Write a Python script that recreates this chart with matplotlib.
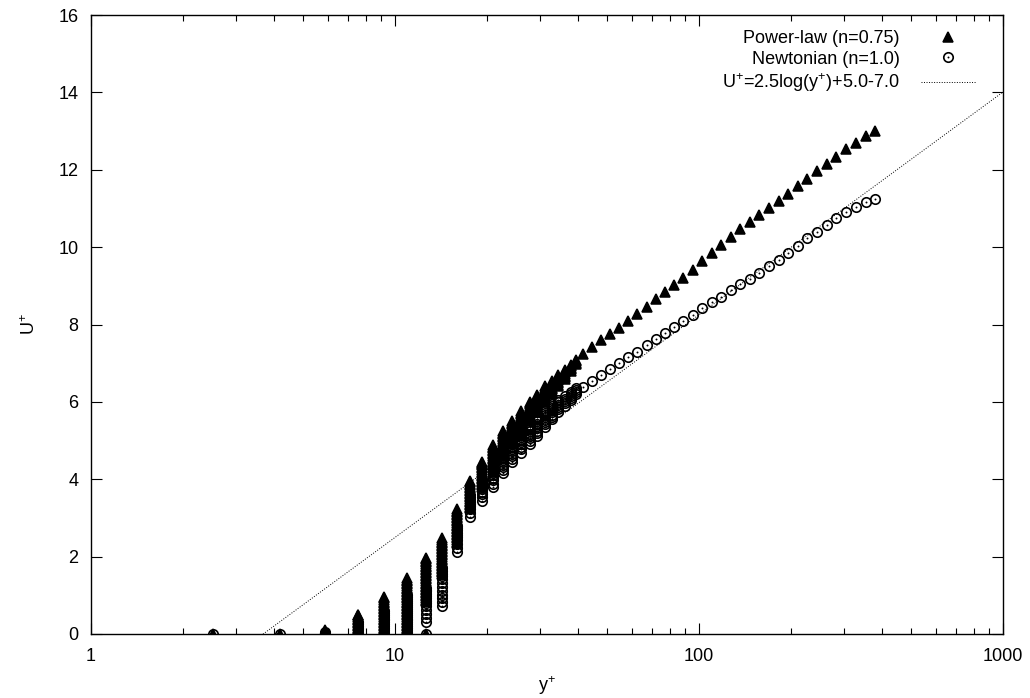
import matplotlib
matplotlib.use("Agg")
import matplotlib.pyplot as plt
import numpy as np
from matplotlib.legend_handler import HandlerTuple
from matplotlib.ticker import FixedLocator, NullFormatter, FixedFormatter

plt.rcParams['font.family'] = ['Liberation Sans', 'DejaVu Sans']
plt.rcParams['mathtext.fontset'] = 'custom'
plt.rcParams['mathtext.rm'] = 'Liberation Sans'
plt.rcParams['mathtext.it'] = 'Liberation Sans'
plt.rcParams['mathtext.bf'] = 'Liberation Sans'

# ---------------- data ----------------
# near-wall grid columns (y+) where many stations overlap
col_yplus = [2.51, 4.18, 5.88, 7.54, 9.22, 10.93, 12.60, 14.27, 15.95, 17.63,
             19.31, 20.99, 22.67, 24.35, 26.03, 27.71, 29.39, 31.07, 32.75,
             34.43, 36.11, 37.79, 39.47]

# Power-law (n=0.75): U+ values seen in each column
pl_col_u = [
    [0.0],
    [0.0],
    [0.00, 0.04, 0.08, 0.11],
    [0.00, 0.04, 0.08, 0.12, 0.16, 0.20, 0.24, 0.28, 0.32, 0.36, 0.40, 0.44,
     0.48, 0.50],
    [0.00, 0.04, 0.08, 0.12, 0.16, 0.20, 0.24, 0.28, 0.32, 0.36, 0.40, 0.44,
     0.48, 0.52, 0.56, 0.60, 0.64, 0.68, 0.72, 0.76, 0.80, 0.84, 0.88, 0.92,
     0.95],
    [0.00, 0.04, 0.08, 0.12, 0.16, 0.20, 0.24, 0.28, 0.32, 0.36, 0.40, 0.44,
     0.48, 0.52, 0.56, 0.60, 0.64, 0.68, 0.72, 0.76, 0.80, 0.84, 0.88, 0.92,
     0.96, 1.00, 1.04, 1.08, 1.12, 1.16, 1.20, 1.24, 1.28, 1.32, 1.36, 1.40,
     1.45],
    [0.00, 0.85, 0.89, 0.93, 0.97, 1.01, 1.05, 1.09, 1.13, 1.17, 1.21, 1.25,
     1.29, 1.33, 1.37, 1.41, 1.45, 1.49, 1.53, 1.57, 1.61, 1.65, 1.69, 1.73,
     1.77, 1.81, 1.85, 1.89, 1.93, 1.97],
    [1.55, 1.59, 1.63, 1.67, 1.71, 1.75, 1.79, 1.83, 1.87, 1.91, 1.95, 1.99,
     2.03, 2.07, 2.11, 2.15, 2.19, 2.23, 2.27, 2.31, 2.35, 2.39, 2.43, 2.48],
    [2.35, 2.39, 2.43, 2.47, 2.51, 2.55, 2.59, 2.63, 2.67, 2.71, 2.75, 2.79,
     2.83, 2.87, 2.91, 2.95, 2.99, 3.03, 3.07, 3.11, 3.15, 3.19, 3.22],
    [3.25, 3.29, 3.33, 3.37, 3.41, 3.45, 3.49, 3.53, 3.57, 3.61, 3.65, 3.69,
     3.73, 3.77, 3.81, 3.85, 3.89, 3.92, 3.95],
    [3.80, 3.84, 3.88, 3.92, 3.96, 4.00, 4.04, 4.08, 4.12, 4.16, 4.20, 4.24,
     4.28, 4.32, 4.36, 4.40, 4.43, 4.45],
    [4.20, 4.24, 4.28, 4.32, 4.36, 4.40, 4.44, 4.48, 4.52, 4.56, 4.60, 4.64,
     4.68, 4.72, 4.76, 4.80, 4.84, 4.88],
    [4.60, 4.64, 4.68, 4.72, 4.76, 4.80, 4.84, 4.88, 4.92, 4.96, 5.00, 5.04,
     5.08, 5.12, 5.16, 5.20, 5.24],
    [4.90, 4.94, 4.98, 5.02, 5.06, 5.10, 5.14, 5.18, 5.22, 5.26, 5.30, 5.34,
     5.38, 5.42, 5.46, 5.50],
    [5.20, 5.24, 5.28, 5.32, 5.36, 5.40, 5.44, 5.48, 5.52, 5.56, 5.60, 5.64,
     5.68, 5.72, 5.77],
    [5.50, 5.54, 5.58, 5.62, 5.66, 5.70, 5.74, 5.78, 5.82, 5.86, 5.90, 5.94,
     5.97, 6.00],
    [5.75, 5.79, 5.83, 5.87, 5.91, 5.95, 5.99, 6.03, 6.07, 6.11, 6.15, 6.18],
    [6.00, 6.04, 6.08, 6.12, 6.16, 6.20, 6.24, 6.28, 6.32, 6.36, 6.40],
    [6.20, 6.24, 6.28, 6.32, 6.36, 6.40, 6.44, 6.48, 6.53],
    [6.40, 6.44, 6.48, 6.52, 6.56, 6.60, 6.65, 6.70],
    [6.60, 6.64, 6.68, 6.72, 6.76, 6.80, 6.83],
    [6.80, 6.84, 6.88, 6.92, 6.96],
    [6.97, 7.01, 7.05, 7.09],
]

# Newtonian (n=1.0): U+ values seen in each column
nw_col_u = [
    [0.0],
    [0.0],
    [0.00, 0.05],
    [0.00, 0.05, 0.10, 0.15, 0.20, 0.25, 0.30],
    [0.00, 0.05, 0.10, 0.15, 0.20, 0.25, 0.30, 0.35, 0.40, 0.45, 0.50, 0.55,
     0.60],
    [0.00, 0.05, 0.10, 0.15, 0.20, 0.25, 0.30, 0.35, 0.40, 0.45, 0.50, 0.55,
     0.60, 0.65, 0.70, 0.75, 0.80, 0.85, 0.90, 0.95, 1.00],
    [0.00, 0.32, 0.42, 0.52, 0.62, 0.72, 0.80, 0.86, 0.92, 0.98, 1.04, 1.10,
     1.15, 1.20],
    [0.72, 0.82, 0.92, 1.02, 1.12, 1.22, 1.32, 1.42, 1.50, 1.56, 1.62, 1.70],
    [2.13, 2.23, 2.33, 2.42, 2.50, 2.56, 2.62, 2.68, 2.74, 2.80],
    [3.03, 3.13, 3.22, 3.30, 3.36, 3.42, 3.48, 3.54, 3.60],
    [3.45, 3.54, 3.62, 3.68, 3.74, 3.80, 3.86, 3.92, 4.00],
    [3.80, 3.89, 3.97, 4.04, 4.10, 4.16, 4.22, 4.28, 4.34, 4.40],
    [4.15, 4.24, 4.32, 4.38, 4.44, 4.50, 4.56, 4.62, 4.70],
    [4.44, 4.53, 4.60, 4.66, 4.72, 4.78, 4.84, 4.90, 4.95, 5.00],
    [4.69, 4.77, 4.84, 4.90, 4.96, 5.02, 5.08, 5.14, 5.20],
    [4.92, 5.00, 5.06, 5.12, 5.18, 5.24, 5.30, 5.35, 5.40],
    [5.13, 5.20, 5.26, 5.32, 5.38, 5.44, 5.50, 5.55, 5.60],
    [5.35, 5.42, 5.48, 5.54, 5.60, 5.66, 5.72, 5.76, 5.80],
    [5.55, 5.61, 5.67, 5.73, 5.79, 5.85, 5.90, 5.95],
    [5.75, 5.81, 5.87, 5.93, 5.99, 6.05],
    [5.90, 5.96, 6.02, 6.08, 6.15],
    [6.05, 6.10, 6.15, 6.20, 6.25],
    [6.20, 6.25, 6.30, 6.35],
]

# outer region: one point per y+
outer_yplus = [41.6, 44.6, 47.7, 50.9, 54.7, 58.6, 62.7, 67.3, 72.2, 77.3,
               82.8, 88.8, 95.4, 102.5, 110.2, 118.3, 127.2, 136.8, 147.2,
               157.9, 169.9, 182.9, 196.7, 211.4, 227.1, 244.4, 263.1, 283.1,
               304.5, 328.5, 353.5, 379.3]
pl_outer_u = [7.24, 7.41, 7.59, 7.75, 7.91, 8.08, 8.27, 8.46, 8.65, 8.83,
              9.02, 9.21, 9.42, 9.63, 9.84, 10.05, 10.26, 10.46, 10.65, 10.84,
              11.02, 11.20, 11.38, 11.57, 11.77, 11.96, 12.15, 12.34, 12.53,
              12.70, 12.86, 13.00]
nw_outer_u = [6.39, 6.55, 6.69, 6.84, 7.00, 7.15, 7.30, 7.47, 7.62, 7.79,
              7.94, 8.10, 8.24, 8.42, 8.58, 8.72, 8.89, 9.04, 9.17, 9.34,
              9.51, 9.67, 9.86, 10.04, 10.23, 10.40, 10.57, 10.74, 10.91,
              11.04, 11.17, 11.24]

# log-law reference line (as drawn): U+ = a*ln(y+) + b
law_a = 2.5
law_b = -3.26
law_yplus_range = [3.68, 1000.0]

x_ticks = [1, 10, 100, 1000]
x_ticklabels = ['1', '10', '100', '1000']
y_ticks = [0, 2, 4, 6, 8, 10, 12, 14, 16]

# ---------------- assemble ----------------
def flatten(cols, outer_x, outer_u):
    xs, us = [], []
    for y, u in zip(col_yplus, cols):
        xs += [y] * len(u)
        us += list(u)
    return np.array(xs + list(outer_x)), np.array(us + list(outer_u))

pl_x, pl_u = flatten(pl_col_u, outer_yplus, pl_outer_u)
nw_x, nw_u = flatten(nw_col_u, outer_yplus, nw_outer_u)

law_x = np.logspace(np.log10(law_yplus_range[0]), np.log10(law_yplus_range[1]), 400)
law_u = law_a * np.log(law_x) + law_b

# ---------------- figure ----------------
FS = 13
fig = plt.figure(figsize=(10.30, 6.98), dpi=100)
ax = fig.add_axes([91/1030, 64/698, 912/1030, 619/698])

tri, = ax.plot(pl_x, pl_u, linestyle='none', marker='^', ms=6.9, mfc='black',
               mec='black', mew=1.1, zorder=2)
circ, = ax.plot(nw_x, nw_u, linestyle='none', marker='o', ms=6.8, mfc='none',
                mec='black', mew=1.2, zorder=3)
dot, = ax.plot(nw_x, nw_u, linestyle='none', marker='o', ms=1.4, mfc='black',
               mec='black', mew=0, zorder=3)
line, = ax.plot(law_x, law_u, color='black', lw=0.7, linestyle=(0, (1, 1.6)),
                zorder=4)

ax.set_xscale('log')
ax.set_xlim(1, 1000)
ax.set_ylim(0, 16)
ax.xaxis.set_major_locator(FixedLocator(x_ticks))
ax.xaxis.set_major_formatter(FixedFormatter(x_ticklabels))
minor = [m * d for d in [1, 10, 100] for m in range(2, 10)]
ax.xaxis.set_minor_locator(FixedLocator(minor))
ax.xaxis.set_minor_formatter(NullFormatter())
ax.set_yticks(y_ticks)

ax.tick_params(axis='both', which='major', direction='in', length=8, width=0.8,
               top=True, right=True, labelsize=FS, colors='black')
ax.tick_params(axis='x', which='major', pad=10)
ax.tick_params(axis='y', which='major', pad=9)
ax.tick_params(axis='x', which='minor', direction='in', length=4, width=0.8,
               top=True)
for s in ax.spines.values():
    s.set_linewidth(1.0)

ax.set_xlabel('y$^{+}$', fontsize=FS, labelpad=7)
ax.set_ylabel('U$^{+}$', fontsize=FS, labelpad=14)

leg = ax.legend([tri, (circ, dot), line],
                ['Power-law (n=0.75)', 'Newtonian (n=1.0)',
                 'U$^{+}$=2.5log(y$^{+}$)+5.0-7.0'],
                handler_map={tuple: HandlerTuple(ndivide=1)},
                loc='upper right', bbox_to_anchor=(976/1030, 1 - 30/698),
                bbox_transform=fig.transFigure,
                frameon=False, markerfirst=False, fontsize=FS,
                handlelength=3.05, handletextpad=1.16, labelspacing=0.2,
                borderaxespad=0, borderpad=0)

fig.savefig('out.png', dpi=100)
